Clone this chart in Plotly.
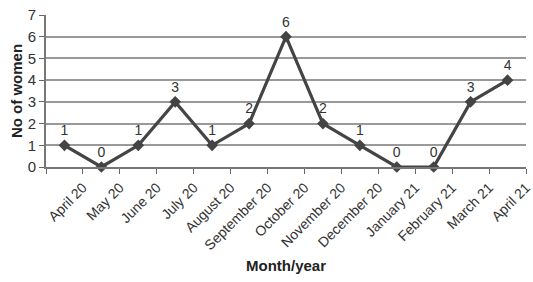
import plotly.graph_objects as go

months = ["April 20", "May 20", "June 20", "July 20", "August 20", "September 20",
          "October 20", "November 20", "December 20", "January 21", "February 21",
          "March 21", "April 21"]
women = [1, 0, 1, 3, 1, 2, 6, 2, 1, 0, 0, 3, 4]

xpos = list(range(len(months)))
tickpos = [i + 0.5 for i in xpos]

fig = go.Figure()
fig.add_trace(go.Scatter(
    x=xpos, y=women, mode="lines+markers+text",
    text=[str(v) for v in women], textposition="top center",
    textfont=dict(family="Liberation Sans, Arial", size=14, color="#333333"),
    line=dict(color="#444444", width=3.2),
    marker=dict(symbol="diamond", size=9, color="#444444"),
    cliponaxis=False, hoverinfo="skip"))

fig.update_layout(
    width=533, height=282,
    margin=dict(l=46, r=7, t=15, b=115),
    paper_bgcolor="white", plot_bgcolor="white",
    showlegend=False,
    font=dict(family="Liberation Sans, Arial", size=13, color="#333333"),
)
fig.update_xaxes(
    range=[-0.5, 12.5], tickmode="array", tickvals=tickpos, ticktext=months,
    tickangle=-45, ticks="outside", ticklen=5, tickcolor="#666666",
    ticklabeloverflow="allow",
    showline=True, linecolor="#777777", linewidth=2,
    showgrid=False, zeroline=False, automargin=False,
    tickfont=dict(size=14, color="#333333"),
    title=dict(text="<b>Month/year</b>", font=dict(size=15, color="#222222"), standoff=8),
)
fig.update_xaxes(minor=dict(tickvals=[-0.5], ticks="outside", ticklen=5, tickcolor="#666666"))
fig.update_yaxes(
    range=[0, 7], dtick=1, ticks="outside", ticklen=5, tickcolor="#666666",
    showline=True, linecolor="#777777", linewidth=2,
    showgrid=True, gridcolor="#999999", gridwidth=1.5, zeroline=False, automargin=False,
    tickfont=dict(size=15, color="#333333"),
    title=dict(text="<b>No of women</b>", font=dict(size=15, color="#222222"), standoff=1),
)

fig.write_html("out.html", config={"displayModeBar": False},
               post_script="document.body.style.margin='0';")
